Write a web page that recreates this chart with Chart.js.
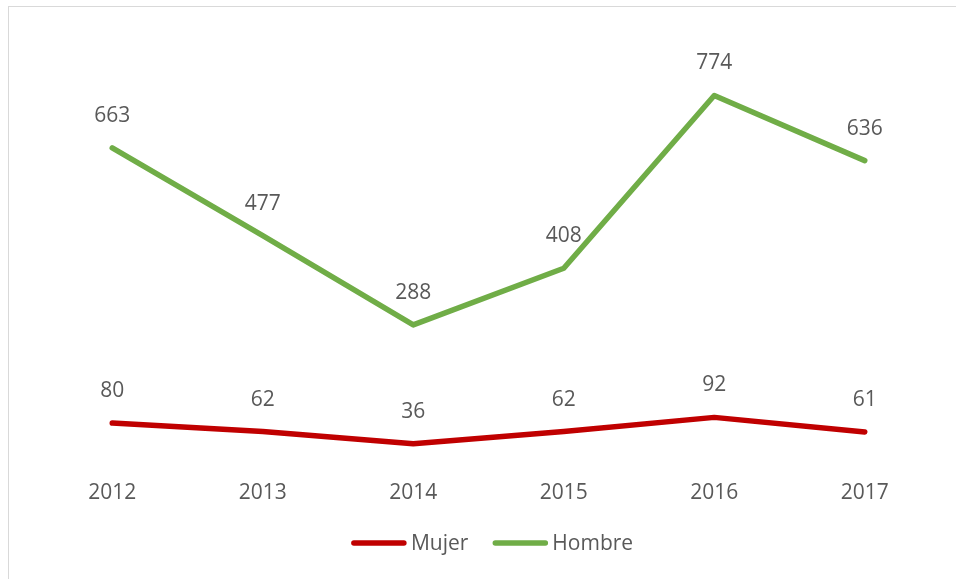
<!DOCTYPE html>
<html>
<head>
<meta charset="utf-8">
<script src="https://cdn.jsdelivr.net/npm/chart.js@4/dist/chart.umd.min.js"></script>
<style>
  html, body { margin: 0; padding: 0; background: #fff; }
  #wrap { position: relative; width: 956px; height: 579px; overflow: hidden; }
  #frame { position: absolute; left: 8px; top: 6px; width: 1000px; height: 700px;
           border-left: 1.5px solid #D9D9D9; border-top: 1.5px solid #D9D9D9; box-sizing: border-box; }
  canvas { position: absolute; left: 0; top: 0; }
</style>
</head>
<body>
<div id="wrap">
  <div id="frame"></div>
  <canvas id="c" width="956" height="579"></canvas>
</div>
<script>
const categories = ['2012', '2013', '2014', '2015', '2016', '2017'];
const mujer = [80, 62, 36, 62, 92, 61];
const hombre = [663, 477, 288, 408, 774, 636];
const seriesNames = ['Mujer', 'Hombre'];
const seriesColors = ['#C00000', '#70AD47'];

const FONT = "'Open Sans', 'DejaVu Sans', sans-serif";

const dataLabels = {
  id: 'dataLabels',
  afterDatasetsDraw(chart) {
    const ctx = chart.ctx;
    ctx.save();
    ctx.font = '21px ' + FONT;
    ctx.fillStyle = '#595959';
    ctx.textAlign = 'center';
    ctx.textBaseline = 'middle';
    chart.data.datasets.forEach((ds, i) => {
      const meta = chart.getDatasetMeta(i);
      meta.data.forEach((pt, j) => {
        ctx.fillText(String(ds.data[j]), pt.x, pt.y - 32);
      });
    });
    ctx.restore();
  }
};

const customLegend = {
  id: 'customLegend',
  afterDraw(chart) {
    const ctx = chart.ctx;
    ctx.save();
    ctx.font = '21px ' + FONT;
    const lineLen = 56, gap = 4, itemGap = 24;
    const items = chart.data.datasets.map(ds => ({ label: ds.label, color: ds.borderColor, w: ctx.measureText(ds.label).width }));
    let total = 0;
    items.forEach((it, i) => { total += lineLen + gap + it.w + (i < items.length - 1 ? itemGap : 0); });
    let x = 492 - total / 2;
    const y = 543;
    items.forEach(it => {
      ctx.strokeStyle = it.color;
      ctx.lineWidth = 5.5;
      ctx.lineCap = 'round';
      ctx.beginPath();
      ctx.moveTo(x + 3, y);
      ctx.lineTo(x + lineLen - 3, y);
      ctx.stroke();
      ctx.fillStyle = '#595959';
      ctx.textAlign = 'left';
      ctx.textBaseline = 'middle';
      ctx.fillText(it.label, x + lineLen + gap, y + 1);
      x += lineLen + gap + it.w + itemGap;
    });
    ctx.restore();
  }
};

new Chart(document.getElementById('c'), {
  type: 'line',
  data: {
    labels: categories,
    datasets: [
      { label: seriesNames[0], data: mujer, borderColor: seriesColors[0], backgroundColor: seriesColors[0] },
      { label: seriesNames[1], data: hombre, borderColor: seriesColors[1], backgroundColor: seriesColors[1] }
    ]
  },
  options: {
    responsive: false,
    animation: false,
    layout: { padding: { top: 36, left: 37, right: 16, bottom: 53 } },
    elements: {
      line: { borderWidth: 5.5, tension: 0, borderCapStyle: 'round', borderJoinStyle: 'round', fill: false },
      point: { radius: 0, hoverRadius: 0 }
    },
    plugins: { legend: { display: false }, tooltip: { enabled: false } },
    scales: {
      x: {
        offset: true,
        grid: { display: false, drawTicks: false },
        border: { display: false },
        ticks: { color: '#595959', font: { family: FONT, size: 21 }, padding: 20, maxRotation: 0 }
      },
      y: {
        display: false,
        min: 0,
        max: 900
      }
    }
  },
  plugins: [dataLabels, customLegend]
});
</script>
</body>
</html>
